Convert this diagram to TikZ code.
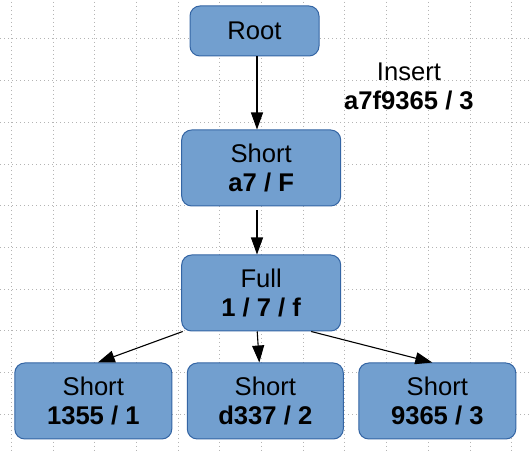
\documentclass[tikz,border=0pt]{standalone}
\usepackage{fontspec}
\setmainfont{Liberation Sans}
\usetikzlibrary{arrows.meta,calc}
\definecolor{boxfill}{HTML}{729FCF}
\definecolor{boxline}{HTML}{3465A4}
\definecolor{gridc}{HTML}{B4B4B4}
\tikzset{
  gridline/.style={draw=gridc,line width=1pt,dash pattern=on 1pt off 3pt},
  box/.style={draw=boxline,fill=boxfill,line width=1pt,rounded corners=10pt,
    minimum width=159pt,minimum height=76pt,inner sep=0pt,align=center,
    font=\fontsize{25.6}{29.4}\selectfont},
  label/.style={inner sep=0pt,align=center,font=\fontsize{25.6}{29.4}\selectfont},
  conn/.style={draw=black,line width=1.1pt,-{Triangle[length=17pt,width=12pt]}}
}
\begin{document}
\begin{tikzpicture}[x=1pt,y=-1pt]
\useasboundingbox (0,0) rectangle (531,454);
\fill[white] (0,0) rectangle (531,454);
\foreach \i in {0,...,12} \draw[gridline] ({11.3+41.7*\i},2) -- ({11.3+41.7*\i},454);
\foreach \i in {0,...,9} \draw[gridline] (0,{39+41.7*\i}) -- (531,{39+41.7*\i});

\node[box,minimum width=129pt,minimum height=50pt] (root) at (254.5,31) {Root};
\node[box] (short) at (261.2,168) {Short\\\textbf{a7 / F}};
\node[box] (full) at (261.2,293) {Full\\\textbf{1 / 7 / f}};
\node[box,minimum width=157pt] (s1) at (93.3,401) {Short\\\textbf{1355 / 1}};
\node[box,minimum width=156pt] (s2) at (265.3,401) {Short\\\textbf{d337 / 2}};
\node[box,minimum width=157pt] (s3) at (437.3,401) {Short\\\textbf{9365 / 3}};
\node[label] (ins) at (409,86.3) {Insert\\\textbf{a7f9365 / 3}};

\draw[conn] ($(root.south)+(2.5,0)$) -- ($(short.north)+(-4.2,0)$);
\draw[conn,shorten <=4pt] ($(short.south)+(-4.2,0)$) -- ($(full.north)+(-4.2,0)$);
\draw[conn] ($(full.south west)+(1.5,0)$) -- ($(s1.north)+(4.5,0)$);
\draw[conn] ($(full.south)+(-4,0)$) -- ($(s2.north)+(-6,0)$);
\draw[conn] ($(full.south)+(50,0)$) -- ($(s3.north)+(-5,0)$);
\end{tikzpicture}
\end{document}
